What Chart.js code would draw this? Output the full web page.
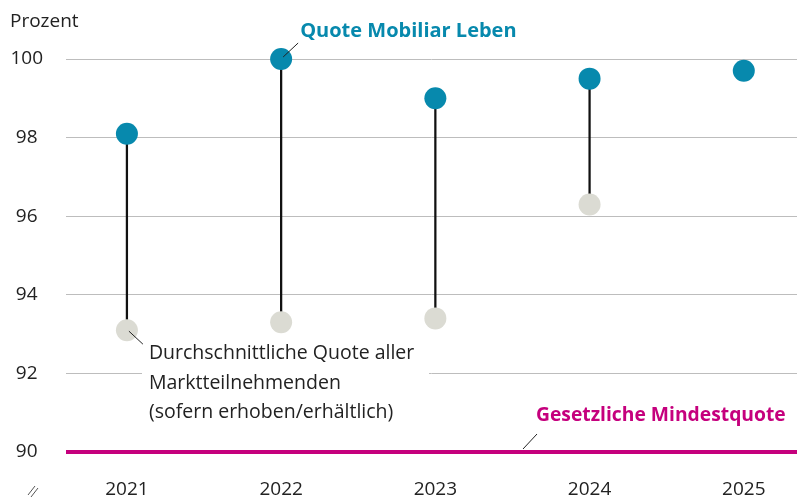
<!DOCTYPE html>
<html>
<head>
<meta charset="utf-8">
<script src="https://cdn.jsdelivr.net/npm/chart.js@4/dist/chart.umd.min.js"></script>
<style>
  html, body { margin: 0; padding: 0; background: #fff; }
  #chart { display: block; }
</style>
</head>
<body>
<canvas id="chart" width="797" height="499"></canvas>
<script>
// Chart data
const years = [2021, 2022, 2023, 2024, 2025];
const mobiliarQuote = [98.1, 100.0, 99.0, 99.5, 99.7];
const marketAverage = [93.1, 93.3, 93.4, 96.3, null];
const minQuote = 90;
const yTickValues = [90, 92, 94, 96, 98, 100];

// axis bounds (x is a linear year scale)
const xMin = 2020.605;
const xMax = 2025.345;

const FONT = '"Open Sans", "Noto Sans", sans-serif';
const BLUE = '#0789ad';
const GREY = '#dbdbd3';
const MAGENTA = '#c5007d';
const TEXT = '#222';

// build point lists from the arrays
const mobiliarPoints = years.map((yr, i) => ({ x: yr, y: mobiliarQuote[i] }));
const marketPoints = years
    .map((yr, i) => ({ x: yr, y: marketAverage[i] }))
    .filter(p => p.y !== null);
const connectorBars = years
    .map((yr, i) => ({ x: yr, y: [marketAverage[i], mobiliarQuote[i]] }))
    .filter(p => p.y[0] !== null);
const minLine = [{ x: xMin, y: minQuote }, { x: xMax, y: minQuote }];

// Texts, leader lines and the axis break drawn around the chart
const annotationPlugin = {
    id: 'annotationPlugin',
    beforeDatasetsDraw(chart) {
        const { ctx } = chart;
        const y = chart.scales.y;
        // white box behind the market-average label interrupts the 92 gridline
        ctx.save();
        ctx.fillStyle = '#fff';
        const y92 = y.getPixelForValue(92);
        ctx.fillRect(142, y92 - 3, 287, 6);
        ctx.restore();
    },
    afterDraw(chart) {
        const { ctx } = chart;
        const x = chart.scales.x;
        const y = chart.scales.y;

        ctx.save();
        ctx.textBaseline = 'middle';
        ctx.textAlign = 'left';

        // unit label
        ctx.fillStyle = TEXT;
        ctx.font = '19px ' + FONT;
        ctx.fillText('Prozent', 10, 22);

        // Quote Mobiliar Leben
        const x22 = x.getPixelForValue(2022);
        const y100 = y.getPixelForValue(100);
        ctx.fillStyle = BLUE;
        ctx.font = 'bold 20px ' + FONT;
        ctx.fillText('Quote Mobiliar Leben', x22 + 19, y100 - 28);
        drawLeader(ctx, x22 + 2, y100 - 2, x22 + 17, y100 - 16);

        // market average label
        const x21 = x.getPixelForValue(2021);
        const yAvg = y.getPixelForValue(marketAverage[0]);
        ctx.fillStyle = TEXT;
        ctx.font = '19.5px ' + FONT;
        ctx.fillText('Durchschnittliche Quote aller', x21 + 22, yAvg + 23);
        ctx.fillText('Marktteilnehmenden', x21 + 22, yAvg + 53);
        ctx.fillText('(sofern erhoben/erhältlich)', x21 + 22, yAvg + 82);
        drawLeader(ctx, x21 + 2, yAvg + 1, x21 + 16, yAvg + 14);

        // legal minimum
        const y90 = y.getPixelForValue(minQuote);
        ctx.fillStyle = MAGENTA;
        ctx.font = 'bold 19.3px ' + FONT;
        ctx.fillText('Gesetzliche Mindestquote', 536, y90 - 36);
        drawLeader(ctx, 523, y90 - 3, 537, y90 - 18);

        // axis break mark
        ctx.strokeStyle = '#555';
        ctx.lineWidth = 1;
        ctx.beginPath();
        ctx.moveTo(28, 495); ctx.lineTo(35, 486);
        ctx.moveTo(31, 497); ctx.lineTo(38, 488);
        ctx.stroke();

        ctx.restore();
    }
};

function drawLeader(ctx, x1, y1, x2, y2) {
    ctx.save();
    ctx.strokeStyle = '#222';
    ctx.lineWidth = 1;
    ctx.beginPath();
    ctx.moveTo(x1, y1);
    ctx.lineTo(x2, y2);
    ctx.stroke();
    ctx.restore();
}

const ctx = document.getElementById('chart').getContext('2d');
new Chart(ctx, {
    type: 'line',
    data: {
        datasets: [
            {
                label: 'Quote Mobiliar Leben',
                data: mobiliarPoints,
                showLine: false,
                pointRadius: 11,
                pointBackgroundColor: BLUE,
                pointBorderWidth: 0,
                clip: false,
                order: 1
            },
            {
                label: 'Durchschnittliche Quote aller Marktteilnehmenden',
                data: marketPoints,
                showLine: false,
                pointRadius: 11,
                pointBackgroundColor: GREY,
                pointBorderWidth: 0,
                clip: false,
                order: 2
            },
            {
                type: 'bar',
                label: 'connector',
                data: connectorBars,
                backgroundColor: '#111',
                barThickness: 1.6,
                borderWidth: 0,
                order: 3
            },
            {
                label: 'Gesetzliche Mindestquote',
                data: minLine,
                borderColor: MAGENTA,
                borderWidth: 4,
                pointRadius: 0,
                clip: false,
                order: 4
            }
        ]
    },
    options: {
        responsive: false,
        animation: false,
        devicePixelRatio: 1,
        layout: { autoPadding: false, padding: { top: 59, left: 0, right: 0, bottom: 0 } },
        plugins: {
            legend: { display: false },
            tooltip: { enabled: false }
        },
        scales: {
            x: {
                type: 'linear',
                min: xMin,
                max: xMax,
                offset: false,
                grid: { display: false },
                border: { display: false },
                afterBuildTicks: scale => { scale.ticks = years.map(v => ({ value: v })); },
                afterFit: scale => {
                    scale.height = 47;
                    scale.paddingLeft = 0;
                    scale.paddingRight = 0;
                },
                ticks: {
                    color: TEXT,
                    font: { family: FONT, size: 19 },
                    padding: 18,
                    maxRotation: 0,
                    autoSkip: false,
                    callback: v => String(v)
                }
            },
            y: {
                min: 90,
                max: 100,
                grid: { color: '#bdbdbd', lineWidth: 1, drawTicks: false },
                border: { display: false },
                afterBuildTicks: scale => { scale.ticks = yTickValues.map(v => ({ value: v })); },
                afterFit: scale => { scale.width = 66; },
                ticks: {
                    color: TEXT,
                    font: { family: FONT, size: 19 },
                    padding: 23,
                    crossAlign: 'center',
                    callback: v => String(v)
                }
            }
        }
    },
    plugins: [annotationPlugin]
});
</script>
</body>
</html>
